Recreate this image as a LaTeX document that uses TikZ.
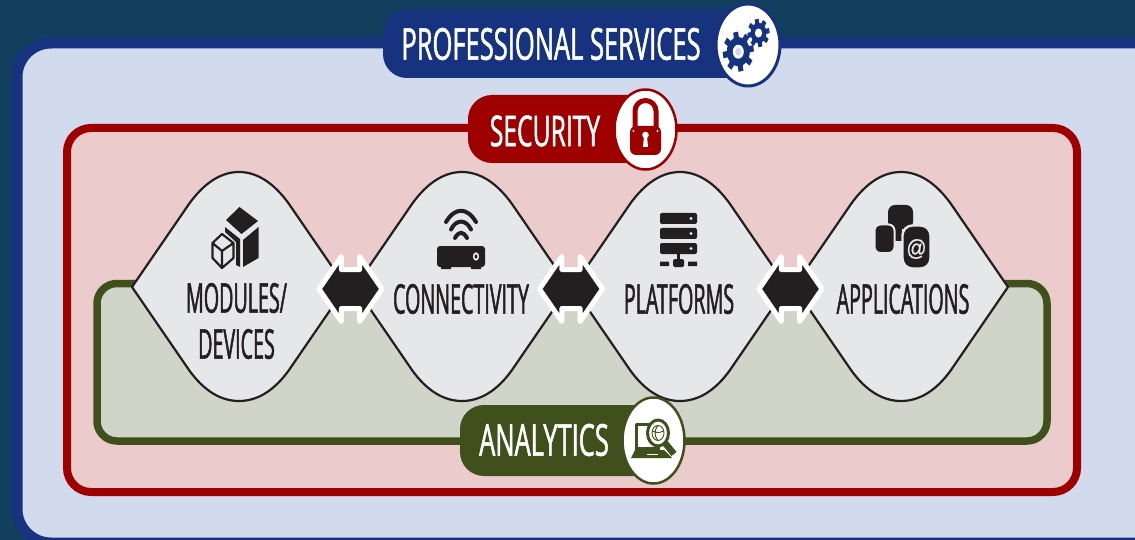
\documentclass[tikz,border=0pt]{standalone}
\usepackage{fontspec}
\newfontfamily\lensfont[FakeStretch=0.48,FakeBold=1.2]{Open Sans}
\newfontfamily\bannerfont[FakeStretch=0.58,FakeBold=1.1]{Open Sans}
\newfontfamily\atfont[FakeBold=0.6]{Liberation Sans}
\usetikzlibrary{calc,shapes.arrows}
\definecolor{navybg}{HTML}{123F5E}
\definecolor{psblue}{HTML}{17327F}
\definecolor{pslight}{HTML}{D2DAEE}
\definecolor{secred}{HTML}{9E0000}
\definecolor{secpink}{HTML}{EBCBCC}
\definecolor{angreen}{HTML}{3F501D}
\definecolor{anlight}{HTML}{D1D4C9}
\definecolor{lensgray}{HTML}{E6E7E9}
\definecolor{inkdark}{HTML}{231F20}
\tikzset{
  lensbox/.style={draw=inkdark,fill=lensgray,line width=2.2pt},
  lenslabel/.style={text=inkdark,font=\lensfont\fontsize{41}{46}\selectfont,align=center,inner sep=0pt},
  banner/.style={text=white,font=\bannerfont\fontsize{44}{46}\selectfont,inner sep=0pt},
  linkarrow/.style={shape=double arrow,fill=inkdark,draw=white,line width=5pt,inner xsep=0pt,inner ysep=17pt,outer sep=0pt,
    minimum height=63pt,double arrow head extend=13pt,double arrow tip angle=111},
  ink/.style={fill=inkdark,draw=none}
}
\begin{document}
\begin{tikzpicture}[x=1pt,y=-1pt,line width=1pt,line cap=round,line join=round]
\useasboundingbox (0,0) rectangle (1135,540);
\fill[navybg] (0,0) rectangle (1135,540);
% nested frames
\draw[draw=psblue,fill=pslight,line width=11pt,rounded corners=34pt] (17,43) rectangle (1180,543);
\draw[draw=secred,fill=secpink,line width=8pt,rounded corners=24pt] (67,128) rectangle (1077,492);
\draw[draw=angreen,fill=anlight,line width=7.5pt,rounded corners=20pt] (97,283.5) rectangle (1047,441);
% lens shapes
\foreach \name/\cx in {modules/239,connectivity/462,platforms/680,applications/901}{
  \coordinate (\name) at (\cx,287);
  \draw[lensbox,shift={(\cx,287)}] (-107,0) -- (-50,-83)
    .. controls (-35,-104) and (-18,-115) .. (0,-115)
    .. controls (18,-115) and (35,-104) .. (50,-83) -- (107,0) -- (50,83)
    .. controls (35,104) and (18,114) .. (0,114)
    .. controls (-18,114) and (-35,104) .. (-50,83) -- cycle;
}
\node[lenslabel] (moduleslabel) at (236.5,321) {MODULES/\\DEVICES};
\node[lenslabel] (connectivitylabel) at (461,299) {CONNECTIVITY};
\node[lenslabel] (platformslabel) at (679,299) {PLATFORMS};
\node[lenslabel] (applicationslabel) at (903,299) {APPLICATIONS};
\node[linkarrow] (linkone) at ($(modules)!.5!(connectivity)+(0,2)$) {};
\node[linkarrow] (linktwo) at ($(connectivity)!.5!(platforms)+(0,2)$) {};
\node[linkarrow] (linkthree) at ($(platforms)!.5!(applications)+(0,2)$) {};
% banners
\fill[psblue,rounded corners=24pt] (383,9) rectangle (760,78);
\draw[draw=psblue,fill=white,line width=3pt] (748,45) ellipse [x radius=32,y radius=41];
\node[banner] (services) at (551,44) {PROFESSIONAL SERVICES};
\fill[secred,rounded corners=24pt] (468,95) rectangle (650,163);
\draw[draw=secred,fill=white,line width=2.5pt] (645.5,129.5) ellipse [x radius=31,y radius=40];
\node[banner,font=\bannerfont\fontsize{42.5}{46}\selectfont] (security) at (545,131) {SECURITY};
\fill[angreen,rounded corners=24pt] (460,405) rectangle (660,476);
\draw[draw=angreen,fill=white,line width=2.5pt] (653.5,440.5) ellipse [x radius=31,y radius=43];
\node[banner] (analytics) at (544,440) {ANALYTICS};
% gears
\foreach \cx/\cy/\rr/\tw/\hh/\nn in {738.3/51.7/11.5/5/15.5/8,758.5/33/8/4/11/8}{
  \fill[psblue,shift={(\cx,\cy)},yscale=1.28] (0,0) circle (\rr);
  \foreach \k in {1,...,\nn}
    \fill[psblue,shift={(\cx,\cy)},yscale=1.28,rotate=\k*360/\nn+10] (-\tw/2,-\hh) rectangle (\tw/2,0);
}
\fill[white] (738.3,51.7) ellipse [x radius=5.5,y radius=7];
\fill[pslight] (738.3,51.7) ellipse [x radius=3,y radius=4];
\fill[white] (758.5,33) ellipse [x radius=3.6,y radius=4.6];
% lock
\draw[secred,line width=5pt,line cap=butt] (635,128) -- (635,111) arc[start angle=180,end angle=360,radius=10.5] -- (656,128);
\fill[secred,rounded corners=6pt] (630,126) rectangle (661,155);
\fill[white] (645.5,135) circle (3.3);
\fill[white] (644,136) -- (647,136) -- (648,147) -- (643,147) -- cycle;
\fill[white] (633.5,131) circle (1.2) (657.5,131) circle (1.2);
% laptop and magnifier
\draw[angreen,line width=3pt,line cap=butt] (636.5,450) -- (636.5,424.5) -- (652,424.5);
\draw[angreen,line width=3pt,line cap=butt] (636.5,448) -- (660,448);
\fill[angreen] (635,450) -- (664,450) -- (672,458) -- (631,458) -- cycle;
\fill[white] (647,453.5) rectangle (658,455);
\draw[angreen,line width=6.5pt,line cap=butt] (665,443) -- (674,454);
\draw[draw=angreen,fill=white,line width=3pt] (658,433) ellipse [x radius=10.5,y radius=13];
\draw[angreen,line width=.9pt] (658,433) ellipse [x radius=6,y radius=7.5]
  (658,425.5) .. controls (654,430) and (654,436) .. (658,440.5)
  (652.5,431) .. controls (656,433) and (660,433) .. (663.5,431);
% cubes
\fill[ink] (239.5,207) -- (258,221) -- (241.5,234) -- (226,220) -- cycle;
\fill[ink] (258.5,227) -- (258.5,258) -- (243,267) -- (243,240) -- cycle;
\fill[ink] (225,227) -- (240,239) -- (240,267) -- (236,265) -- (236,242) -- (225,232) -- cycle;
\draw[inkdark,line width=2.2pt] (222,234) -- (233.5,243) -- (233.5,258) -- (222,268) -- (212.5,258) -- (212.5,243) -- cycle
  (212.5,243) -- (222,251) -- (233.5,243) (222,251) -- (222,268);
% router
\draw[inkdark,line width=4pt] (446,222) .. controls (455,207) and (467,207) .. (476,222)
  (451,229.5) .. controls (456,219) and (466,219) .. (471,229.5)
  (455,238) .. controls (459,231) and (463,231) .. (467,238);
\fill[ink,rounded corners=3pt] (437,246) rectangle (485,267);
\fill[ink] (441,265) rectangle (451,269) (471,265) rectangle (481,269);
\fill[lensgray] (476,256.5) ellipse [x radius=3.2,y radius=4.2];
\fill[ink] (476,256.5) ellipse [x radius=1.4,y radius=2];
% server
\foreach \yy in {213,228,243}{
  \fill[ink,rounded corners=2pt] (660,\yy) rectangle (697,\yy+11);
  \fill[lensgray] (691,\yy+5.5) circle (1.7);
}
\fill[ink] (677.3,254) rectangle (679.7,262);
\fill[ink] (660,261.5) rectangle (669,266) (688,261.5) rectangle (697,266);
\fill[ink,rounded corners=1.5pt] (673,259) rectangle (684,267);
% apps
\fill[ink,rounded corners=7pt] (888,205) rectangle (913,229);
\fill[ink] (895,222) rectangle (902,241);
\draw[draw=lensgray,fill=inkdark,line width=2pt,rounded corners=6pt] (874.5,224.5) rectangle (894.5,253);
\draw[draw=lensgray,fill=inkdark,line width=2.4pt,rounded corners=10pt] (902.5,225.5) rectangle (930.5,268.5);
\node[text=lensgray,font=\atfont\fontsize{20}{20}\selectfont,inner sep=0pt,yscale=1.15,transform shape] (atsign) at (916.5,249) {@};
\end{tikzpicture}
\end{document}
